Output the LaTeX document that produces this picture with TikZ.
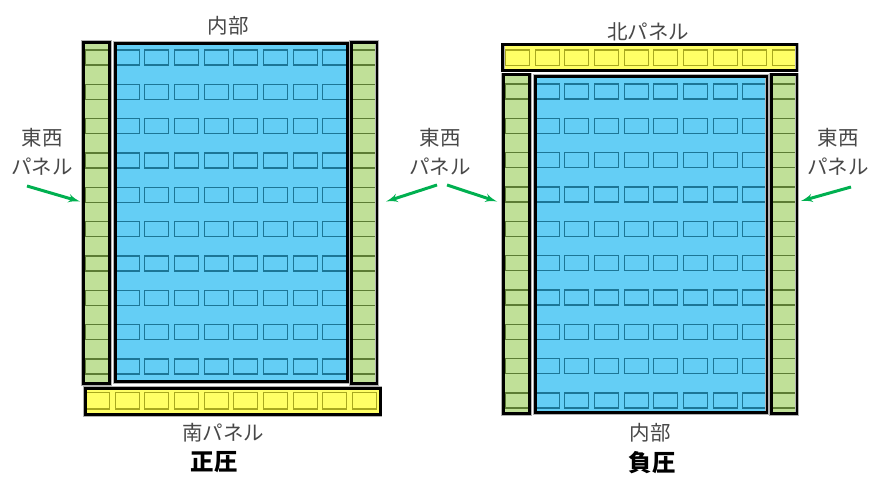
\documentclass[tikz,border=0pt]{standalone}
\usepackage{fontspec}
\setmainfont{Noto Sans CJK JP}
\usetikzlibrary{shapes,arrows,calc}
\definecolor{panelgreen}{RGB}{192,224,152}
\definecolor{cellgreen}{RGB}{92,124,52}
\definecolor{panelblue}{RGB}{100,206,245}
\definecolor{cellblue}{RGB}{28,118,150}
\definecolor{panelyellow}{RGB}{255,255,102}
\definecolor{cellyellow}{RGB}{168,168,30}
\definecolor{arrowgreen}{RGB}{0,176,80}
\definecolor{labelgray}{RGB}{72,72,72}
\tikzstyle{border} = [draw=black, line width=2.8pt,
    preaction={draw=black!30, line width=3.8pt}]
\tikzstyle{greencell} = [draw=cellgreen, line width=1.1pt]
\tikzstyle{bluecell} = [draw=cellblue, line width=1.1pt]
\tikzstyle{yellowcell} = [draw=cellyellow, line width=1.1pt]
\tikzstyle{caption} = [text=labelgray, align=center,
    font=\fontsize{20.5}{29}\selectfont]
\tikzstyle{title} = [font=\bfseries\fontsize{23.5}{28}\selectfont]
\tikzstyle{line} = [draw=arrowgreen, line width=3pt, -latex']

\begin{document}
\begin{tikzpicture}[x=1pt, y=-1pt]
\useasboundingbox (0,0) rectangle (874,476);

%% Fill panels (left: positive pressure, right: negative pressure)
\fill[panelgreen] (83.25,42.25) rectangle (109.75,383.75);
\fill[panelblue] (115.25,43.25) rectangle (347.5,381.75);
\fill[panelgreen] (351.25,42.25) rectangle (377,383.75);
\fill[panelyellow] (85.25,388.25) rectangle (380.5,414.75);
\fill[panelgreen] (503.25,74.5) rectangle (529.75,413.75);
\fill[panelblue] (535.25,76.25) rectangle (767,412.75);
\fill[panelgreen] (771.25,74.5) rectangle (797,413.75);
\fill[panelyellow] (502.75,44.5) rectangle (797,70.5);

%% Cells of the wall panels and of the inside
\foreach \dx/\dy in {0/0, 420/34}{
    \foreach \r in {0,...,9}{
        \draw[greencell] (85.5+\dx, 50+\dy+34.33*\r) rectangle +(24,15);
        \draw[greencell] (352.3+\dx, 50+\dy+34.33*\r) rectangle +(24,15);
        \foreach \c in {1,...,8}
            \draw[bluecell] (85.5+\dx+29.65*\c, 50+\dy+34.33*\r) rectangle +(24,15);
    }
}
\foreach \c in {0,...,9}{
    \draw[yellowcell] (85.5+29.65*\c, 392.5) rectangle +(24,16.5);
    \draw[yellowcell] (505.5+29.65*\c, 50) rectangle +(24,15.5);
}

%% Panel borders
\draw[border] (83.25,42.25) rectangle (109.75,383.75);
\draw[border] (115.25,43.25) rectangle (347.5,381.75);
\draw[border] (351.25,42.25) rectangle (377,383.75);
\draw[border] (85.25,388.25) rectangle (380.5,414.75);
\draw[border] (503.25,74.5) rectangle (529.75,413.75);
\draw[border] (535.25,76.25) rectangle (767,412.75);
\draw[border] (771.25,74.5) rectangle (797,413.75);
\draw[border] (502.75,44.5) rectangle (797,70.5);

%% Place labels
\node[caption] (insideL) at (228,26) {内部};
\node[caption] (southpanel) at (223,433) {南パネル};
\node[title] (positive) at (214,462.5) {正圧};
\node[caption] (northpanel) at (648,32) {北パネル};
\node[caption] (insideR) at (650,433) {内部};
\node[title] (negative) at (652,462.5) {負圧};
\node[caption] (eastwestA) at (42,152) {東西\\パネル};
\node[caption] (eastwestB) at (440,152) {東西\\パネル};
\node[caption] (eastwestC) at (838,152) {東西\\パネル};

%% Draw arrows onto the east/west panels
\coordinate (tailA) at (27,186);
\coordinate (tipA) at (80,201.5);
\coordinate (tailB) at (437,185);
\coordinate (tipB) at (386,201.5);
\coordinate (tailC) at (447,185);
\coordinate (tipC) at (497,201.5);
\coordinate (tailD) at (851,187);
\coordinate (tipD) at (801,201);
\path [line] (tailA) -- (tipA);
\path [line] (tailB) -- (tipB);
\path [line] (tailC) -- (tipC);
\path [line] (tailD) -- (tipD);
\end{tikzpicture}
\end{document}
